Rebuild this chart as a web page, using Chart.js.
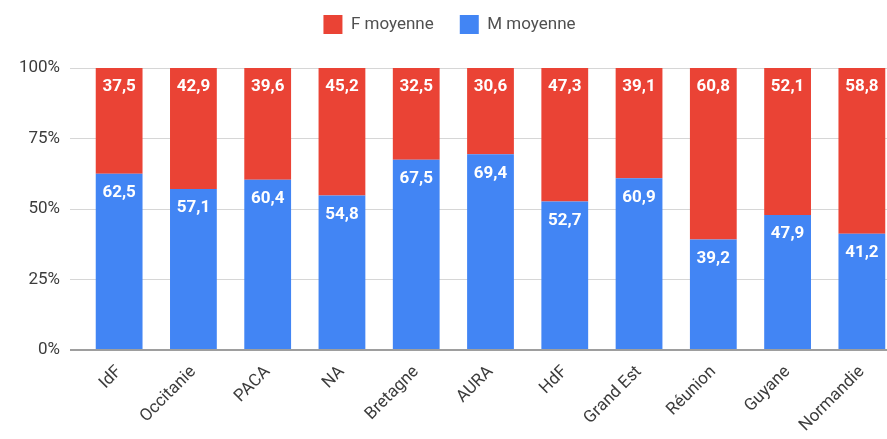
<!DOCTYPE html>
<html>
<head>
<meta charset="utf-8">
<script src="https://cdn.jsdelivr.net/npm/chart.js@4/dist/chart.umd.min.js"></script>
<style>
    html, body { margin: 0; padding: 0; background: #fff; overflow: hidden; }
</style>
</head>
<body>
<canvas id="chart" width="899" height="439"></canvas>
<script>
// ---------------- DATA ----------------
const regions = ["IdF", "Occitanie", "PACA", "NA", "Bretagne", "AURA", "HdF", "Grand Est", "Réunion", "Guyane", "Normandie"];
const mMoyenne = [62.5, 57.1, 60.4, 54.8, 67.5, 69.4, 52.7, 60.9, 39.2, 47.9, 41.2];
const fMoyenne = [37.5, 42.9, 39.6, 45.2, 32.5, 30.6, 47.3, 39.1, 60.8, 52.1, 58.8];
const yTicks = [0, 25, 50, 75, 100];

const BLUE = "#4285F4";
const RED = "#EA4335";
const TEXT = "#3c3c3c";

// ---------------- LABELS PLUGIN ----------------
const barLabels = {
    id: "barLabels",
    afterDatasetsDraw(chart) {
        const ctx = chart.ctx;
        ctx.save();
        ctx.fillStyle = "#ffffff";
        ctx.font = "bold 17px Roboto";
        ctx.textAlign = "center";
        ctx.textBaseline = "middle";

        chart.data.datasets.forEach((ds, i) => {
            const meta = chart.getDatasetMeta(i);
            meta.data.forEach((bar, j) => {
                const txt = ds.data[j].toFixed(1).replace(".", ",");
                ctx.fillText(txt, bar.x, bar.y + 19);
            });
        });

        ctx.restore();
    }
};

// extra room between legend and plot
const legendGap = {
    id: "legendGap",
    beforeLayout(chart) {
        const lg = chart.legend;
        if (lg && !lg._patched) {
            const fit = lg.fit;
            lg.fit = function () {
                fit.call(this);
                this.height += 24;
            };
            lg._patched = true;
        }
    }
};

// ---------------- CHART ----------------
new Chart(document.getElementById("chart"), {
    type: "bar",

    data: {
        labels: regions,
        datasets: [
            {
                label: "M moyenne",
                data: mMoyenne,
                backgroundColor: BLUE,
                barPercentage: 0.63,
                categoryPercentage: 1
            },
            {
                label: "F moyenne",
                data: fMoyenne,
                backgroundColor: RED,
                barPercentage: 0.63,
                categoryPercentage: 1
            }
        ]
    },

    options: {
        responsive: false,
        animation: false,
        layout: {
            padding: { top: -11, right: 0, bottom: 0, left: 0 }
        },
        plugins: {
            legend: {
                reverse: true,
                labels: {
                    color: "#505050",
                    font: { family: "Roboto", size: 17 },
                    boxWidth: 19,
                    boxHeight: 19,
                    padding: 26
                }
            },
            tooltip: { enabled: false }
        },
        scales: {
            x: {
                stacked: true,
                grid: { display: false },
                border: { display: false },
                ticks: {
                    color: TEXT,
                    font: { family: "Roboto", size: 17 },
                    minRotation: 45,
                    maxRotation: 45,
                    padding: 4
                },
                afterFit(scale) {
                    scale.height = 89;
                }
            },
            y: {
                stacked: true,
                min: 0,
                max: 100,
                border: { display: false },
                grid: {
                    color: (c) => c.tick && c.tick.value === 0 ? "#9e9e9e" : "#d6d6d6",
                    lineWidth: (c) => c.tick && c.tick.value === 0 ? 2 : 1,
                    tickLength: 12
                },
                afterBuildTicks(scale) {
                    scale.ticks = yTicks.map(v => ({ value: v }));
                },
                ticks: {
                    color: TEXT,
                    font: { family: "Roboto", size: 17 },
                    padding: 10,
                    callback: (v) => v + "%"
                },
                afterFit(scale) {
                    scale.width = 82;
                }
            }
        }
    },

    plugins: [barLabels, legendGap]
});
</script>
</body>
</html>
